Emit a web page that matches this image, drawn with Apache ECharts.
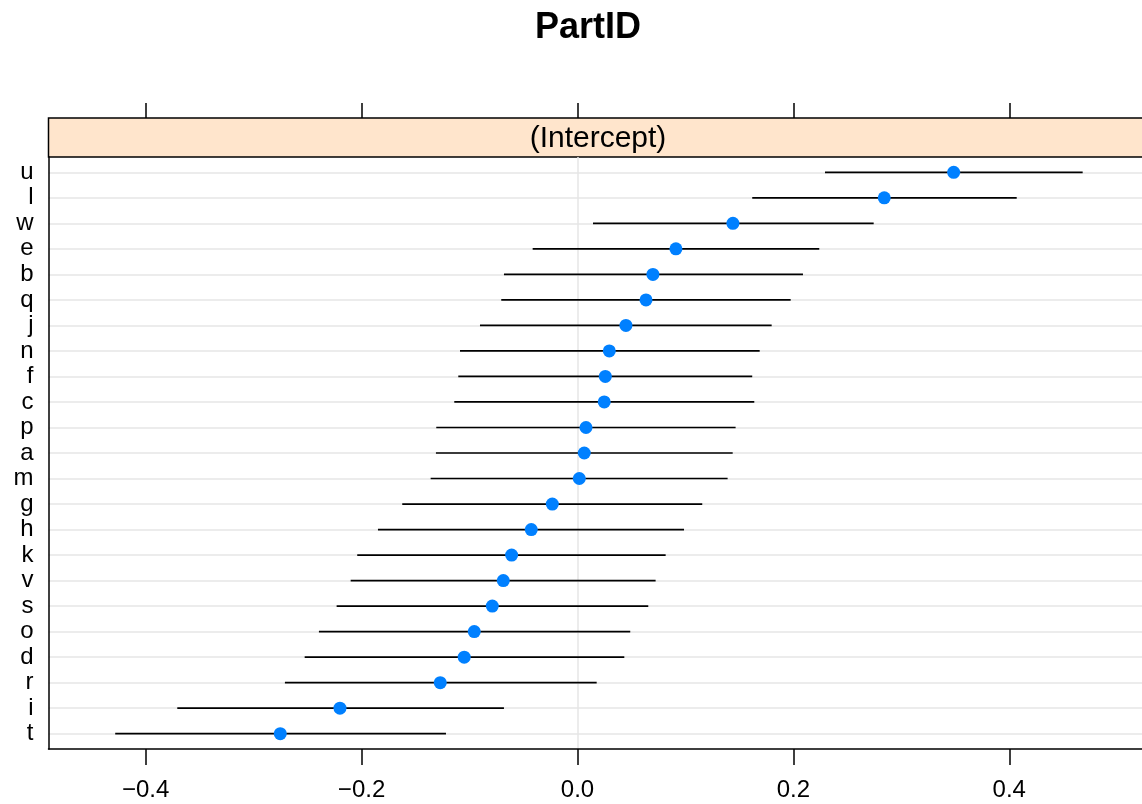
<!DOCTYPE html>
<html>
<head>
<meta charset="utf-8">
<script src="https://cdn.jsdelivr.net/npm/echarts@6/dist/echarts.min.js"></script>
<style>
  html, body { margin: 0; padding: 0; background: #fff; }
  #main { width: 1142px; height: 804px; }
</style>
</head>
<body>
<div id="main"></div>
<script>
// levels of PartID, top to bottom
var cats = ['u','l','w','e','b','q','j','n','f','c','p','a','m','g','h','k','v','s','o','d','r','i','t'];
// conditional modes
var est = [0.3485, 0.2842, 0.1440, 0.0912, 0.0699, 0.0635, 0.0449, 0.0295, 0.0258, 0.0248, 0.0079, 0.0063,
           0.0017, -0.0233, -0.0428, -0.0610, -0.0687, -0.0789, -0.0956, -0.1049, -0.1271, -0.2200, -0.2753];
// interval ends
var lower = [0.2293, 0.1619, 0.0144, -0.0415, -0.0681, -0.0706, -0.0903, -0.1088, -0.1104, -0.1141, -0.1308, -0.1311,
             -0.1360, -0.1623, -0.1848, -0.2040, -0.2101, -0.2231, -0.2395, -0.2527, -0.2710, -0.3707, -0.4282];
var upper = [0.4680, 0.4069, 0.2744, 0.2240, 0.2089, 0.1975, 0.1799, 0.1688, 0.1619, 0.1638, 0.1465, 0.1438,
             0.1391, 0.1156, 0.0987, 0.0817, 0.0724, 0.0656, 0.0489, 0.0434, 0.0178, -0.0681, -0.1218];
var xTicks = [-0.4, -0.2, 0, 0.2, 0.4];

var FONT = 'Liberation Sans, Arial, Helvetica, sans-serif';
var idx = cats.map(function (c, i) { return i; });

var chart = echarts.init(document.getElementById('main'));

// light reference lines: one per level plus the zero line
var gridLines = idx.map(function (i) { return { yAxis: i }; });
gridLines.push({ xAxis: 0 });

var option = {
    animation: false,
    grid: { left: 48.5, top: 157, width: 1097, height: 592, containLabel: false, outerBoundsMode: 'none' },
    graphic: [
        { type: 'rect', z: -1, shape: { x: 48.5, y: 118, width: 1100, height: 39 },
          style: { fill: '#ffe5cc', stroke: '#000', lineWidth: 1.5 } },
        { type: 'text', x: 598, y: 139,
          style: { text: '(Intercept)', font: '30px ' + FONT, fill: '#000', textAlign: 'center', textVerticalAlign: 'middle' } },
        { type: 'text', x: 588, y: 28,
          style: { text: 'PartID', font: 'bold 36px ' + FONT, fill: '#000', textAlign: 'center', textVerticalAlign: 'middle' } }
    ],
    xAxis: [{
        type: 'value', min: -0.490, max: 0.5262, position: 'bottom',
        axisLine: { onZero: false, lineStyle: { color: '#000', width: 1.5 } },
        axisTick: { show: true, length: 16, customValues: xTicks, lineStyle: { color: '#000', width: 1.5 } },
        axisLabel: { customValues: xTicks, fontSize: 24, fontFamily: FONT, color: '#000', margin: 29,
            formatter: function (v) { return v.toFixed(1).replace('-', '\u2212'); } },
        splitLine: { show: false }
    }, {
        type: 'value', min: -0.490, max: 0.5262, position: 'top', offset: 39,
        axisLine: { show: false, onZero: false },
        axisTick: { show: true, length: 15, customValues: xTicks, lineStyle: { color: '#000', width: 1.5 } },
        axisLabel: { show: false },
        splitLine: { show: false }
    }],
    yAxis: {
        type: 'value', inverse: true, min: -0.6, max: 22.6, position: 'left',
        axisLine: { show: true, onZero: false, lineStyle: { color: '#000', width: 1.5 } },
        axisTick: { show: false },
        axisLabel: { customValues: idx, fontSize: 24, fontFamily: FONT, color: '#000', margin: 15,
            formatter: function (v) { return cats[v]; } },
        splitLine: { show: false }
    },
    series: [{
        type: 'scatter', z: 1, silent: true, data: [],
        markLine: {
            silent: true, z: 0, symbol: ['none', 'none'], label: { show: false },
            lineStyle: { color: '#e6e6e6', width: 1.5, type: 'solid' },
            emphasis: { disabled: true },
            data: gridLines
        }
    }, {
        type: 'custom', z: 2, silent: true,
        encode: { x: [0, 1], y: 2 },
        data: idx.map(function (i) { return [lower[i], upper[i], i]; }),
        renderItem: function (params, api) {
            var a = api.coord([api.value(0), api.value(2)]);
            var b = api.coord([api.value(1), api.value(2)]);
            return { type: 'line', shape: { x1: a[0], y1: a[1], x2: b[0], y2: b[1] },
                     style: { stroke: '#000', lineWidth: 1.7 } };
        }
    }, {
        type: 'scatter', z: 3, silent: true, symbolSize: 13,
        itemStyle: { color: '#0080ff', opacity: 1 },
        data: idx.map(function (i) { return [est[i], i]; })
    }]
};
chart.setOption(option);
</script>
</body>
</html>
